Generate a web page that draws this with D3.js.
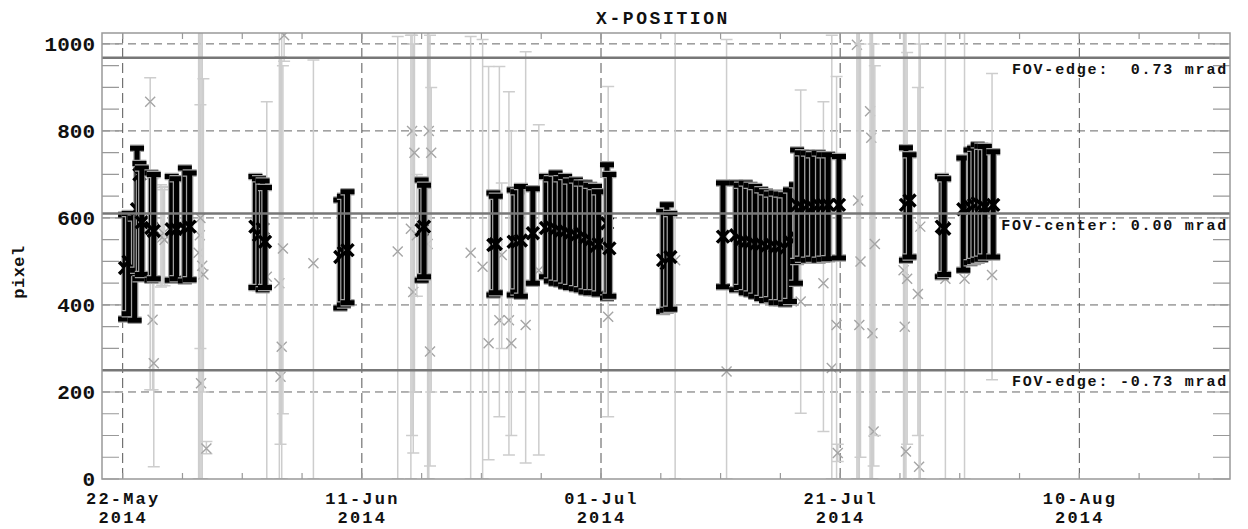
<!DOCTYPE html>
<html>
<head>
<meta charset="utf-8">
<script src="https://d3js.org/d3.v7.min.js"></script>
<style>
  body { margin: 0; background: #fff; }
  text { font-family: "Liberation Mono", "DejaVu Sans Mono", monospace; font-weight: bold; fill: #111; }
</style>
</head>
<body>
<svg id="chart" width="1248" height="529"></svg>
<script>
// days after 22-May-2014, value, lower, upper (pixel)
const blackBars = [
  [0.2, 485, 368, 607], [0.5, 500, 380, 610], [1.0, 480, 365, 600], [1.2, 620, 480, 760],
  [1.4, 700, 460, 725], [1.6, 590, 470, 715], [2.4, 577, 457, 703], [2.6, 570, 460, 700],
  [4.1, 574, 457, 695], [4.5, 574, 460, 690], [5.2, 575, 455, 715], [5.6, 580, 458, 703],
  [11.1, 580, 440, 695], [11.4, 560, 440, 690], [11.7, 575, 435, 685], [11.9, 545, 440, 670],
  [18.2, 510, 393, 641], [18.5, 520, 400, 650], [18.8, 526, 405, 660],
  [25.0, 572, 457, 687], [25.2, 580, 465, 675],
  [31.0, 538, 423, 657], [31.2, 540, 428, 650], [32.7, 545, 423, 664], [33.0, 545, 430, 660],
  [33.3, 548, 420, 672], [34.3, 565, 450, 667], [35.4, 577, 465, 695], [35.8, 580, 455, 690],
  [36.2, 575, 450, 703], [36.6, 570, 448, 690], [37.0, 570, 443, 695], [37.4, 565, 440, 685],
  [37.9, 560, 437, 687], [38.3, 565, 435, 680], [38.7, 555, 430, 680], [39.1, 550, 428, 675],
  [39.5, 534, 428, 672], [39.8, 540, 425, 660], [40.5, 588, 416, 722], [40.7, 530, 420, 700],
  [45.2, 503, 385, 615], [45.5, 495, 388, 630], [45.8, 510, 390, 610],
  [50.2, 557, 442, 680], [51.3, 560, 435, 680], [51.7, 550, 440, 675], [52.1, 545, 428, 680],
  [52.5, 545, 425, 675], [52.9, 540, 420, 672], [53.4, 540, 415, 665], [53.8, 535, 410, 660],
  [54.2, 540, 412, 655], [54.6, 534, 405, 657], [55.0, 535, 405, 655], [55.4, 530, 402, 653],
  [55.8, 545, 408, 664], [56.3, 555, 450, 676], [56.4, 630, 500, 756], [56.8, 625, 505, 750],
  [57.3, 630, 503, 749], [57.7, 625, 505, 745], [58.2, 630, 503, 749], [58.6, 630, 505, 745],
  [59.0, 630, 506, 745], [59.9, 630, 508, 741],
  [65.5, 630, 503, 761], [65.8, 640, 510, 745], [68.5, 580, 465, 695], [68.7, 575, 470, 690],
  [70.3, 620, 480, 738], [70.9, 625, 497, 756], [71.2, 630, 500, 760], [71.5, 634, 503, 768],
  [71.8, 630, 505, 765], [72.1, 625, 510, 764], [72.8, 630, 510, 752]
];

const grayBars = [
  [2.3, 867, 205, 922], [2.5, 366, 205, 690], [2.6, 266, 28, 450],
  [3.2, 560, 441, 676], [3.3, 555, 445, 670], [3.4, 565, 450, 665], [3.5, 550, 444, 672],
  [6.35, 520, 0, 1030], [6.45, 560, 0, 1030], [6.55, 220, 0, 1030], [6.65, 490, 0, 1030],
  [6.75, 470, 200, 920], [6.5, 600, 300, 860], [7.0, 70, 58, 86],
  [12.05, 465, 0, 867],
  [13.1, 450, 0, 1030], [13.2, 235, 80, 970], [13.3, 304, 0, 1030], [13.4, 530, 150, 950],
  [13.5, 1020, 960, 1030],
  [15.95, 496, 0, 963],
  [23.0, 523, 0, 1017],
  [24.1, 575, 0, 1020], [24.2, 800, 100, 1020], [24.3, 430, 60, 1000], [24.4, 750, 200, 1030],
  [24.6, 560, 420, 700],
  [25.5, 540, 0, 1030], [25.6, 800, 0, 1030], [25.7, 293, 30, 1020], [25.8, 750, 200, 900],
  [29.1, 520, 0, 1017], [30.1, 488, 0, 1010], [30.6, 312, 44, 948], [31.5, 365, 143, 948],
  [31.7, 515, 300, 680], [32.3, 365, 55, 890], [32.5, 312, 100, 800], [33.7, 354, 37, 982],
  [34.8, 480, 55, 814],
  [40.6, 373, 143, 902], [46.2, 503, 0, 1030], [50.5, 247, 0, 1010],
  [56.7, 408, 151, 894], [58.6, 450, 109, 867], [59.3, 255, 0, 1020], [59.7, 354, 0, 925],
  [59.8, 60, 40, 80],
  [61.4, 998, 0, 1030], [61.5, 640, 0, 1030], [61.6, 354, 0, 1030], [61.7, 500, 50, 1000],
  [62.5, 845, 0, 1030], [62.6, 784, 0, 1030], [62.7, 335, 0, 1030], [62.8, 109, 30, 1000],
  [62.9, 540, 100, 950],
  [65.3, 480, 0, 1030], [65.4, 350, 0, 1030], [65.5, 63, 0, 1030], [65.6, 460, 80, 980],
  [66.6, 28, 0, 1030], [66.7, 580, 0, 1000], [66.5, 425, 100, 900],
  [68.8, 460, 0, 1030], [70.4, 460, 0, 1030], [72.7, 469, 228, 932]
];

const fovLines = [
  { value: 968, label: "FOV-edge:  0.73 mrad" },
  { value: 610, label: "FOV-center: 0.00 mrad" },
  { value: 250, label: "FOV-edge: -0.73 mrad" }
];

const yTicks = [0, 200, 400, 600, 800, 1000];
const xTickDays = [0, 20, 40, 60, 80];

const start = new Date(2014, 4, 22);
const toDate = d => new Date(start.getTime() + d * 864e5);

const svg = d3.select("#chart");
const x0 = 102, x1 = 1230, y0 = 33, y1 = 479;

const x = d3.scaleTime().domain([toDate(-1.73), toDate(92.6)]).range([x0, x1]);
const y = d3.scaleLinear().domain([0, 1025]).range([y1, y0]);

svg.append("defs").append("clipPath").attr("id", "clip")
  .append("rect").attr("x", x0).attr("y", y0).attr("width", x1 - x0).attr("height", y1 - y0);

// grid
const grid = svg.append("g");
grid.selectAll(".hg").data(yTicks.filter(v => v > 0)).join("line")
  .attr("x1", x0).attr("x2", x1).attr("y1", d => y(d)).attr("y2", d => y(d))
  .attr("stroke", "#666").attr("stroke-width", 1).attr("stroke-dasharray", "8,5");
grid.selectAll(".vg").data(xTickDays).join("line")
  .attr("x1", d => x(toDate(d))).attr("x2", d => x(toDate(d))).attr("y1", y0).attr("y2", y1)
  .attr("stroke", "#555").attr("stroke-width", 1).attr("stroke-dasharray", "10,5");

// minor ticks
const minorY = d3.range(0, 1025, 50);
grid.selectAll(".my").data(minorY).join("path")
  .attr("d", d => `M${x0},${y(d)}h17M${x1},${y(d)}h-17`)
  .attr("stroke", "#999").attr("stroke-width", 1.2);
const minorX = d3.range(0, 93, 5);
grid.selectAll(".mx").data(minorX).join("path")
  .attr("d", d => `M${x(toDate(d))},${y1}v-6M${x(toDate(d))},${y0}v6`)
  .attr("stroke", "#999").attr("stroke-width", 1.2);

const plot = svg.append("g").attr("clip-path", "url(#clip)");

function errorBars(g, data, opt) {
  const sel = g.append("g").selectAll("g").data(data).join("g");
  const barPath = d => { const cx = x(toDate(d[0])), c = opt.cap; return `M${cx},${y(d[2])}V${y(d[3])}M${cx - c},${y(d[2])}h${c * 2}M${cx - c},${y(d[3])}h${c * 2}`; };
  const markPath = d => { const cx = x(toDate(d[0])), cy = y(d[1]), s = opt.mark; return `M${cx - s},${cy - s}L${cx + s},${cy + s}M${cx - s},${cy + s}L${cx + s},${cy - s}`; };
  if (opt.halo) {
    sel.append("path").attr("d", barPath)
      .attr("stroke", opt.halo).attr("stroke-width", opt.width + 2.5).attr("fill", "none");
  }
  sel.append("path").attr("d", barPath)
    .attr("stroke", opt.color).attr("stroke-width", opt.width).attr("fill", "none");
  sel.append("path").attr("d", markPath)
    .attr("stroke", opt.markColor).attr("stroke-width", opt.markWidth).attr("fill", "none");
}

errorBars(plot, grayBars, { color: "#cdcdcd", width: 1.5, cap: 6, mark: 5, markColor: "#a5a5a5", markWidth: 1.4 });
errorBars(plot, blackBars, { color: "#000", width: 5, cap: 7, mark: 6, markColor: "#000", markWidth: 3.5, halo: "#a0a0a0" });

// FOV lines
svg.selectAll(".fov").data(fovLines).join("line")
  .attr("x1", x0).attr("x2", x1).attr("y1", d => y(d.value)).attr("y2", d => y(d.value))
  .attr("stroke", "#777").attr("stroke-width", 2.5);
svg.selectAll(".fovt").data(fovLines).join("text")
  .attr("x", x1 - 2).attr("y", d => y(d.value) + 16)
  .attr("text-anchor", "end").style("font-size", "15px").style("letter-spacing", "1.8px")
  .style("white-space", "pre").text(d => d.label);

// frame
svg.append("rect").attr("x", x0).attr("y", y0).attr("width", x1 - x0).attr("height", y1 - y0)
  .attr("fill", "none").attr("stroke", "#999").attr("stroke-width", 1.5);

// axis labels
const yAxis = svg.append("g").attr("transform", `translate(${x0},0)`)
  .call(d3.axisLeft(y).tickValues(yTicks).tickSize(0).tickPadding(7).tickFormat(d3.format("d")));
yAxis.select(".domain").remove();
yAxis.selectAll("text").style("font-size", "21px").style("font-family", "Liberation Mono").style("font-weight", "bold").attr("fill", "#111");

const fmt = d3.timeFormat("%d-%b");
const xAxis = svg.append("g").attr("transform", `translate(0,${y1})`)
  .call(d3.axisBottom(x).tickValues(xTickDays.map(toDate)).tickSize(0).tickFormat(""));
xAxis.select(".domain").remove();
xAxis.selectAll(".tick").each(function(d) {
  const t = d3.select(this).append("text").attr("text-anchor", "middle")
    .style("font-size", "17px").style("letter-spacing", "2.2px").attr("fill", "#111");
  t.append("tspan").attr("x", 0).attr("y", 25).text(fmt(d));
  t.append("tspan").attr("x", 0).attr("y", 44).text(d3.timeFormat("%Y")(d));
});

svg.append("text").attr("x", 663).attr("y", 24).attr("text-anchor", "middle")
  .style("font-size", "18px").style("letter-spacing", "2.6px").text("X-POSITION");

svg.append("text").attr("transform", "translate(24,272) rotate(-90)").attr("text-anchor", "middle")
  .style("font-size", "17px").style("letter-spacing", "0.5px").text("pixel");
</script>
</body>
</html>
